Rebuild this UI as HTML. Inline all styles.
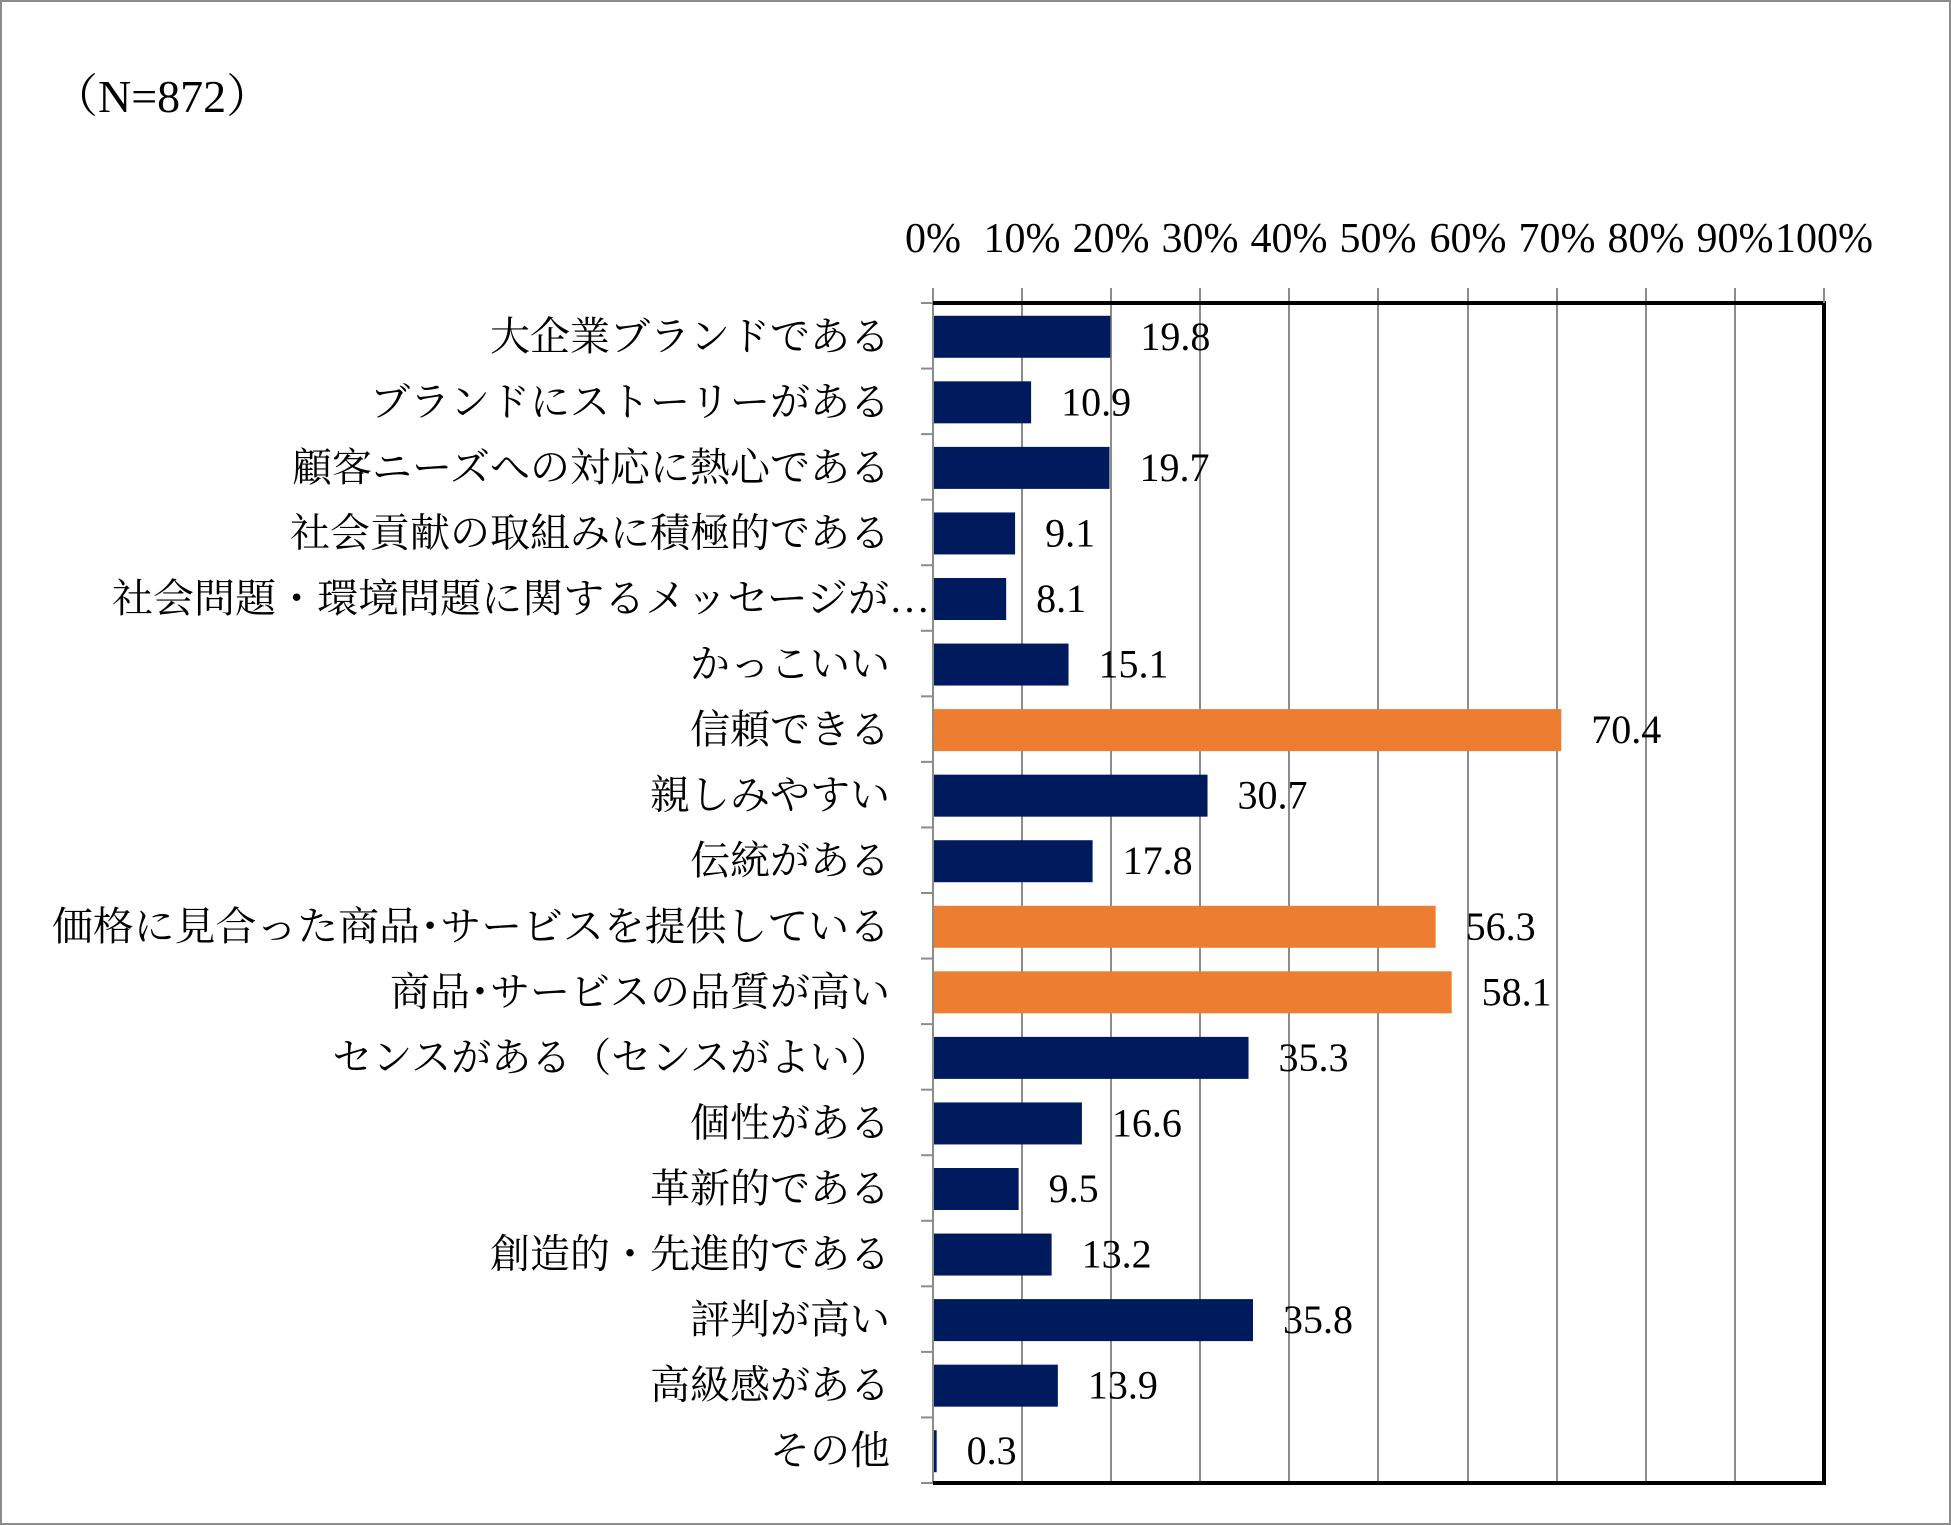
<!DOCTYPE html>
<html><head><meta charset="utf-8"><style>
html,body{margin:0;padding:0;background:#fff}
svg{display:block}
text{font-family:"Liberation Serif","Noto Serif CJK SC",serif;fill:#000}
</style></head><body>
<svg width="1951" height="1525" viewBox="0 0 1951 1525" xmlns="http://www.w3.org/2000/svg">
<rect x="1" y="1" width="1949" height="1523" fill="#fff" stroke="#8c8c8c" stroke-width="2"/>
<text x="52" y="112" font-size="46">（N=872）</text>
<g font-size="42" text-anchor="middle">
<text x="933" y="252">0%</text><text x="1022" y="252">10%</text><text x="1111" y="252">20%</text><text x="1200" y="252">30%</text><text x="1289" y="252">40%</text><text x="1378" y="252">50%</text><text x="1468" y="252">60%</text><text x="1557" y="252">70%</text><text x="1646" y="252">80%</text><text x="1735" y="252">90%</text><text x="1824" y="252">100%</text>
</g>
<g stroke="#8c8c8c" stroke-width="2">
<line x1="1022" y1="288" x2="1022" y2="1483"/><line x1="1111" y1="288" x2="1111" y2="1483"/><line x1="1200" y1="288" x2="1200" y2="1483"/><line x1="1289" y1="288" x2="1289" y2="1483"/><line x1="1378" y1="288" x2="1378" y2="1483"/><line x1="1468" y1="288" x2="1468" y2="1483"/><line x1="1557" y1="288" x2="1557" y2="1483"/><line x1="1646" y1="288" x2="1646" y2="1483"/><line x1="1735" y1="288" x2="1735" y2="1483"/>
<line x1="933" y1="288" x2="933" y2="1483"/>
</g>
<g stroke="#8c8c8c" stroke-width="2" id="ticks"></g>
<polyline points="933,303 1824,303 1824,1483 933,1483" fill="none" stroke="#000" stroke-width="4"/>
<line x1="1824" y1="288" x2="1824" y2="303" stroke="#8c8c8c" stroke-width="2"/>
<g id="bars"></g>
<script>
var d=[["大企業ブランドである",19.8],["ブランドにストーリーがある",10.9],["顧客ニーズへの対応に熱心である",19.7],["社会貢献の取組みに積極的である",9.1],["社会問題・環境問題に関するメッセージが…",8.1],["かっこいい",15.1],["信頼できる",70.4],["親しみやすい",30.7],["伝統がある",17.8],["価格に見合った商品･サービスを提供している",56.3],["商品･サービスの品質が高い",58.1],["センスがある（センスがよい）",35.3],["個性がある",16.6],["革新的である",9.5],["創造的・先進的である",13.2],["評判が高い",35.8],["高級感がある",13.9],["その他",0.3]];
var orange={6:1,9:1,10:1};
var ns="http://www.w3.org/2000/svg",g=document.getElementById("bars"),tk=document.getElementById("ticks");
var top0=303,h=(1483-303)/18,s=89.1;
function el(n,a,t){var e=document.createElementNS(ns,n);for(var k in a)e.setAttribute(k,a[k]);if(t!=null)e.textContent=t;return e;}
for(var i=0;i<=18;i++){tk.appendChild(el("line",{x1:921,x2:933,y1:top0+i*h,y2:top0+i*h}));}
d.forEach(function(r,i){
 var cy=top0+h*i+h/2,w=r[1]/10*s;
 g.appendChild(el("rect",{x:934,y:cy-20,width:w,height:42,fill:orange[i]?"#ED7D31":"#001A5E"}));
 g.appendChild(el("text",{x:934+w+30,y:cy+14,"font-size":40},r[1].toFixed(1)));
 var a={x:i==4?930:890,y:cy+14,"font-size":40,"text-anchor":"end"};
 if(i==4){a.textLength=818;a.lengthAdjust="spacingAndGlyphs";}
 if(i==9){a.textLength=838;a.lengthAdjust="spacingAndGlyphs";}
 g.appendChild(el("text",a,r[0]));
});
</script>
</svg>
</body></html>
